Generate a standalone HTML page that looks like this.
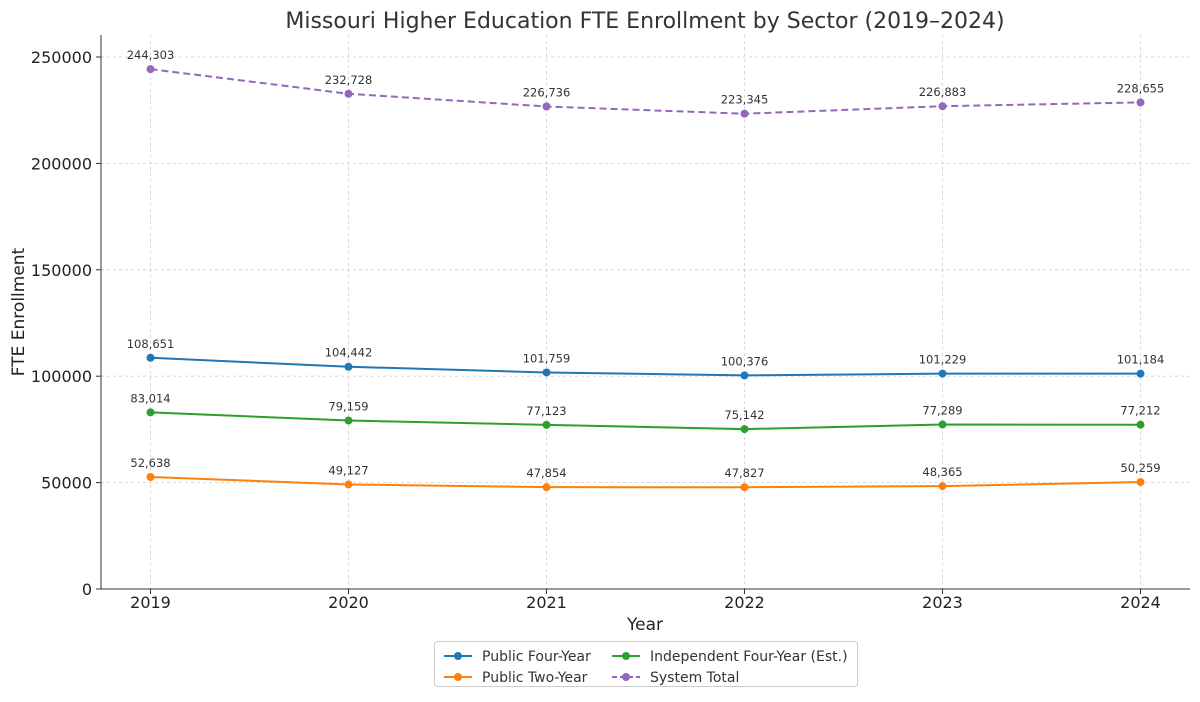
<!DOCTYPE html>
<html><head><meta charset="utf-8">
<style>
body{margin:0;background:#fff;font-family:"Liberation Sans","DejaVu Sans",sans-serif;}
svg text{font-family:"DejaVu Sans","Liberation Sans",sans-serif;}
</style></head>
<body>
<svg id="chart" width="1200" height="697">
</svg>
<script>
const years = [2019, 2020, 2021, 2022, 2023, 2024];
const publicFour = [108651, 104442, 101759, 100376, 101229, 101184];
const publicTwo = [52638, 49127, 47854, 47827, 48365, 50259];
const independent = [83014, 79159, 77123, 75142, 77289, 77212];
const systemTotal = [244303, 232728, 226736, 223345, 226883, 228655];
const yTicks = [0, 50000, 100000, 150000, 200000, 250000];

const L=101,R=1190,T=35,B=589;
const xMin=2018.75,xMax=2024.25,yMin=0,yMax=260338;
const xs=v=>L+(v-xMin)/(xMax-xMin)*(R-L);
const ys=v=>B-(v-yMin)/(yMax-yMin)*(B-T);
const svg=document.getElementById('chart');
const NS='http://www.w3.org/2000/svg';
function mk(tag,attrs,parent){const e=document.createElementNS(NS,tag);for(const k in attrs)e.setAttribute(k,attrs[k]);(parent||svg).appendChild(e);return e;}

// grid
years.forEach(y=>{const g=mk('line',{x1:xs(y),x2:xs(y),y1:T,y2:B,stroke:'#d0d0d0','stroke-dasharray':'3,3','stroke-width':0.8});

});
yTicks.forEach(v=>{const g=mk('line',{x1:L,x2:R,y1:ys(v),y2:ys(v),stroke:'#d0d0d0','stroke-dasharray':'3,3','stroke-width':0.8});

});

// axes frame
const ax=mk('path',{d:`M${L},${T} V${B} H${R}`,fill:'none',stroke:'#333','stroke-width':1});



years.forEach(y=>{mk('line',{x1:xs(y),x2:xs(y),y1:B,y2:B+5,stroke:'#333'});
const t=mk('text',{x:xs(y),y:B+19,'text-anchor':'middle','font-size':16,fill:'#222'});t.textContent=y;

});
yTicks.forEach(v=>{mk('line',{x1:L-5,x2:L,y1:ys(v),y2:ys(v),stroke:'#333'});
const t=mk('text',{x:L-9,y:ys(v)+6,'text-anchor':'end','font-size':16,fill:'#222'});t.textContent=v;

});

const title=mk('text',{x:645,y:28,'text-anchor':'middle','font-size':22,fill:'#333'});
title.textContent='Missouri Higher Education FTE Enrollment by Sector (2019–2024)';


const xl=mk('text',{x:645,y:630,'text-anchor':'middle','font-size':17,fill:'#222'});xl.textContent='Year';


const yl=mk('text',{x:24,y:312,'text-anchor':'middle','font-size':17,fill:'#222',transform:'rotate(-90 24 312)'});yl.textContent='FTE Enrollment';



const series=[
 {name:'public-four-year',data:publicFour,color:'#1f77b4',dash:null},
 {name:'public-two-year',data:publicTwo,color:'#ff7f0e',dash:null},
 {name:'independent-four-year',data:independent,color:'#2ca02c',dash:null},
 {name:'system-total',data:systemTotal,color:'#9467bd',dash:'7,4'}];
series.forEach(s=>{
 const g=mk('g',{});
 
 
 const d=s.data.map((v,i)=>(i?'L':'M')+xs(years[i])+','+ys(v)).join(' ');
 const p=mk('path',{d,fill:'none',stroke:s.color,'stroke-width':2,'stroke-dasharray':s.dash||'none'},g);
 
 
 s.data.forEach((v,i)=>{
  const c=mk('circle',{cx:xs(years[i]),cy:ys(v),r:4,fill:s.color},g);
  
  
  const t=mk('text',{x:xs(years[i]),y:ys(v)-10,'text-anchor':'middle','font-size':11.5,fill:'#333'},g);
  t.textContent=v.toLocaleString('en-US');
  
  
 });
});

// legend
const lg=mk('g',{});


mk('rect',{x:434.5,y:641.5,width:423,height:45,rx:3,fill:'#fff',stroke:'#ccc'},lg);
const items=[['Public Four-Year','#1f77b4',null,444,656],['Public Two-Year','#ff7f0e',null,444,677],
 ['Independent Four-Year (Est.)','#2ca02c',null,612,656],['System Total','#9467bd','5,3',612,677]];
items.forEach(it=>{
 const e=mk('g',{},lg);
 
 
 mk('line',{x1:it[3],x2:it[3]+28,y1:it[4],y2:it[4],stroke:it[1],'stroke-width':2,'stroke-dasharray':it[2]||'none'},e);
 mk('circle',{cx:it[3]+14,cy:it[4],r:4,fill:it[1]},e);
 const t=mk('text',{x:it[3]+38,y:it[4]+5,'font-size':14,fill:'#333'},e);t.textContent=it[0];
});
</script>
</body></html>
